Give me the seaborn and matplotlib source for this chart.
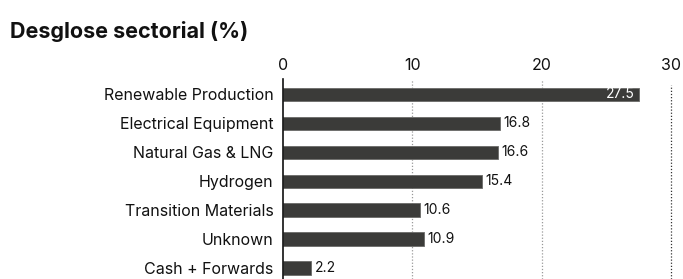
import matplotlib
matplotlib.use("Agg")
import matplotlib.pyplot as plt
import seaborn as sns
import pandas as pd

categories = ["Renewable Production", "Electrical Equipment", "Natural Gas & LNG",
              "Hydrogen", "Transition Materials", "Unknown", "Cash + Forwards"]
values = [27.5, 16.8, 16.6, 15.4, 10.6, 10.9, 2.2]
x_ticks = [0, 10, 20, 30]
title = "Desglose sectorial (%)"

sns.set_theme(style="white")
plt.rcParams['font.family'] = ['Inter', 'DejaVu Sans']

df = pd.DataFrame({"sector": categories, "pct": values})

fig = plt.figure(figsize=(6.83, 2.79), dpi=100)
ax = fig.add_axes([283/683, 0, (671-283)/683, 200/279])

bar_color = "#3b3b39"
sns.barplot(data=df, x="pct", y="sector", orient="h", color=bar_color,
            width=0.45, edgecolor="#6a6a68", linewidth=0.6, ax=ax, saturation=1)

ax.set_xlim(0, 30)
ax.set_ylim(6.38, -0.52)
ax.set_xlabel("")
ax.set_ylabel("")
ax.xaxis.tick_top()
ax.set_xticks(x_ticks)
ax.set_xticklabels([str(t) for t in x_ticks], fontsize=11.5, color="#111111")
ax.tick_params(axis="x", length=0, pad=4)
ax.tick_params(axis="y", length=0, pad=7, labelsize=11.5, labelcolor="#111111")

for s in ["top", "right", "bottom"]:
    ax.spines[s].set_visible(False)
ax.spines["left"].set_color("#111111")
ax.spines["left"].set_linewidth(1.2)

for t in x_ticks[1:3]:
    ax.axvline(t, color="#9a9a9a", linestyle=(0, (1, 1.5)), linewidth=0.9, zorder=0)
ax.axvline(30, color="#333333", linestyle=(0, (1, 1.5)), linewidth=0.9, zorder=0,
           ymax=0.97, clip_on=False)

for i, v in enumerate(values):
    if v > 25:
        ax.text(v - 0.3, i, f"{v}", ha="right", va="center", fontsize=10, color="white")
    else:
        ax.text(v + 0.25, i, f"{v}", ha="left", va="center", fontsize=10, color="#111111")

fig.text(10/683, 1 - 31/279, title, fontsize=15.5, fontweight="bold", ha="left",
         va="center", color="#111111")

fig.savefig("out.png", dpi=100)
